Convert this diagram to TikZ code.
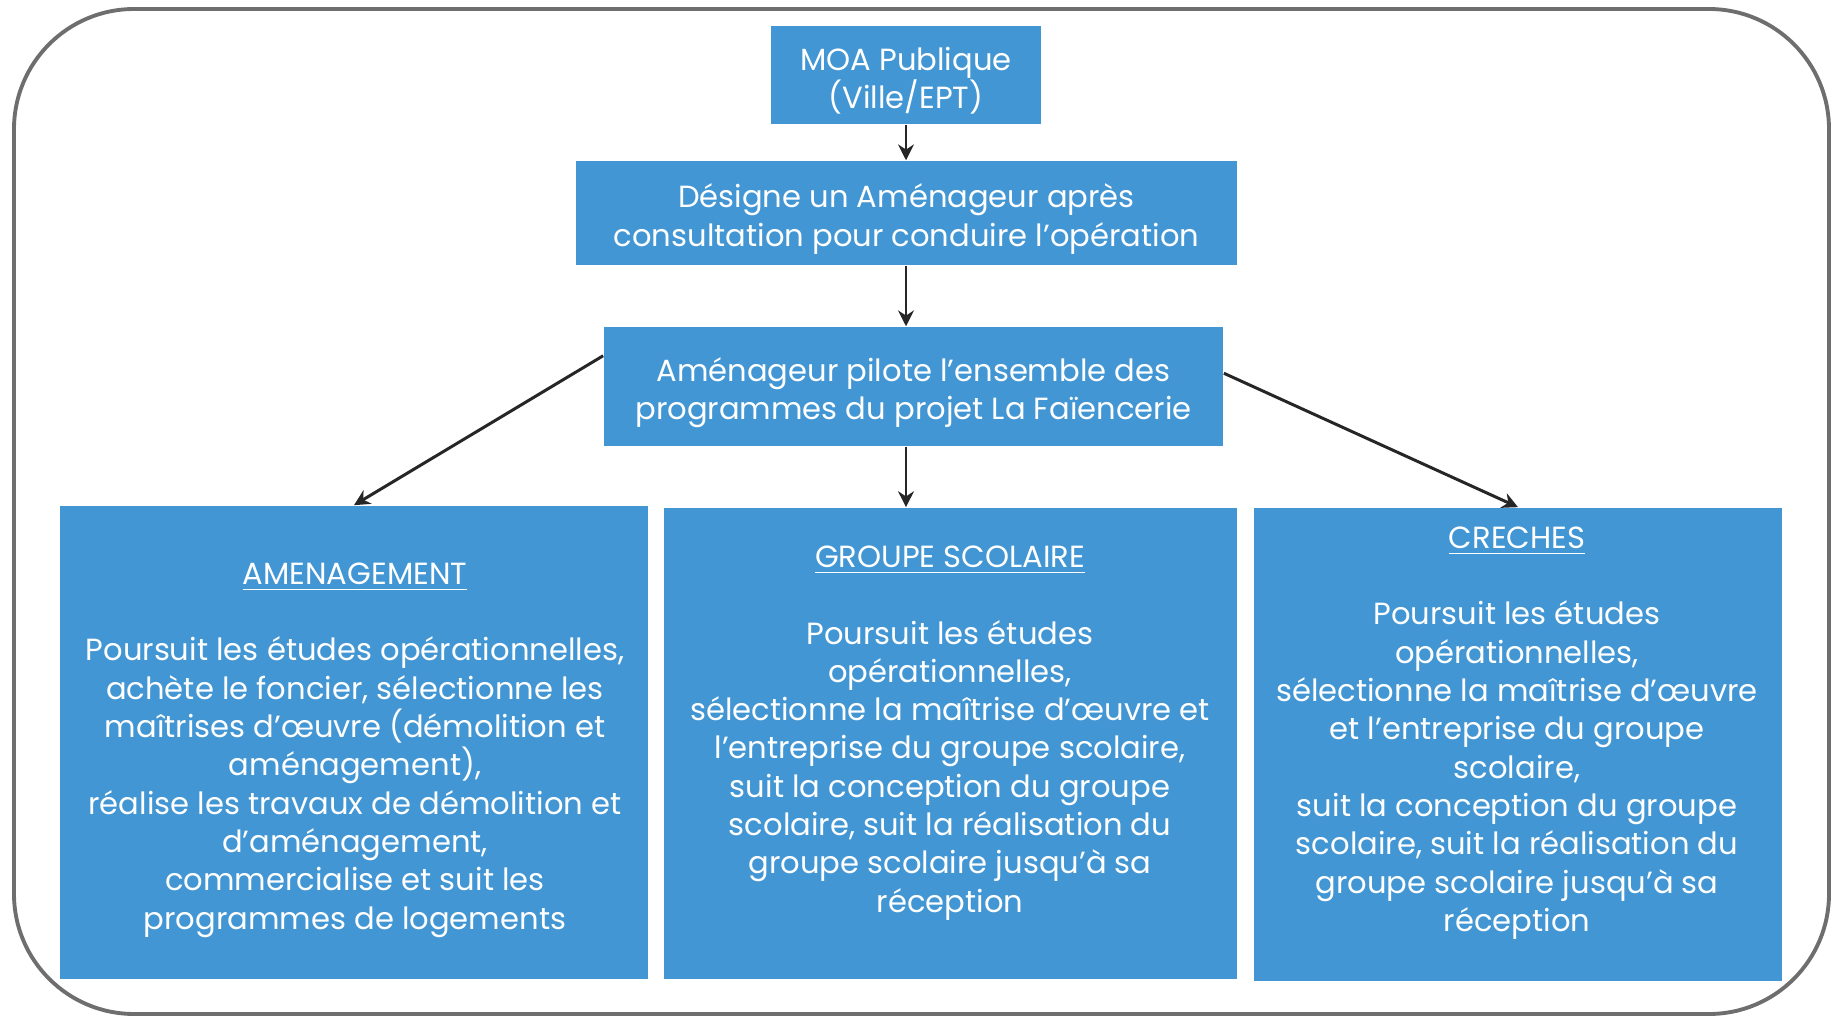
\documentclass[tikz,border=0pt]{standalone}
\usepackage{fontspec}
\setmainfont{Poppins}
\usetikzlibrary{arrows.meta,calc}
\definecolor{boxblue}{RGB}{66,150,211}
\definecolor{framegray}{RGB}{110,110,110}
\begin{document}
\begin{tikzpicture}[x=0.01cm,y=-0.01cm,
  box/.style={draw=none, fill=boxblue, inner sep=0pt},
  txt/.style={text=white, align=center, font=\fontsize{8.7}{10.9}\selectfont, inner sep=0pt},
  arr/.style={-{Stealth[length=4.5pt,width=4.5pt]}, line width=0.85pt, black!85}]
\useasboundingbox (0,0) rectangle (1832,1018);
\draw[framegray, line width=1.1pt, rounded corners=1.2cm] (14,9) rectangle (1829,1014);

\node[box, minimum width=2.70cm, minimum height=0.98cm] (moa) at (906,75) {};
\node[box, minimum width=6.61cm, minimum height=1.04cm] (des) at (906.5,213) {};
\node[box, minimum width=6.19cm, minimum height=1.19cm] (pil) at (913.5,386.5) {};
\node[txt] (moatxt) at ($(moa)+(0,6)$) {MOA Publique\\(Ville/EPT)};
\node[txt] (destxt) at ($(des)+(0,6)$) {Désigne un Aménageur après\\consultation pour conduire l’opération};
\node[txt] (piltxt) at ($(pil)+(0,6)$) {Aménageur pilote l’ensemble des\\programmes du projet La Faïencerie};

\node[box, minimum width=5.88cm, minimum height=4.73cm] (amen) at (354,742.5) {};
\node[box, minimum width=5.73cm, minimum height=4.71cm] (grp) at (950.5,743.5) {};
\node[box, minimum width=5.28cm, minimum height=4.73cm] (cre) at (1518,744.5) {};

\node[txt] (amentxt) at (355,750) {\underline{AMENAGEMENT}\\[10.9pt]
Poursuit les études opérationnelles,\\
achète le foncier, sélectionne les\\
maîtrises d’œuvre (démolition et\\
aménagement),\\
réalise les travaux de démolition et\\
d’aménagement,\\
commercialise et suit les\\
programmes de logements};

\node[txt] (grptxt) at (950,733) {\underline{GROUPE SCOLAIRE}\\[10.9pt]
Poursuit les études\\
opérationnelles,\\
sélectionne la maîtrise d’œuvre et\\
l’entreprise du groupe scolaire,\\
suit la conception du groupe\\
scolaire, suit la réalisation du\\
groupe scolaire jusqu’à sa\\
réception};

\node[txt] (cretxt) at (1517,733) {\underline{CRECHES}\\[10.9pt]
Poursuit les études\\
opérationnelles,\\
sélectionne la maîtrise d’œuvre\\
et l’entreprise du groupe\\
scolaire,\\
suit la conception du groupe\\
scolaire, suit la réalisation du\\
groupe scolaire jusqu’à sa\\
réception};

\draw[arr] (moa.south) -- (moa.south |- des.north);
\draw[arr] (moa.south |- des.south) -- (moa.south |- pil.north);
\draw[arr] (moa.south |- pil.south) -- (moa.south |- grp.north);
\draw[arr] ($(pil.north west)!0.245!(pil.south west)$) -- (amen.north);
\draw[arr] ($(pil.north east)!0.39!(pil.south east)$) -- (cre.north);
\end{tikzpicture}
\end{document}
